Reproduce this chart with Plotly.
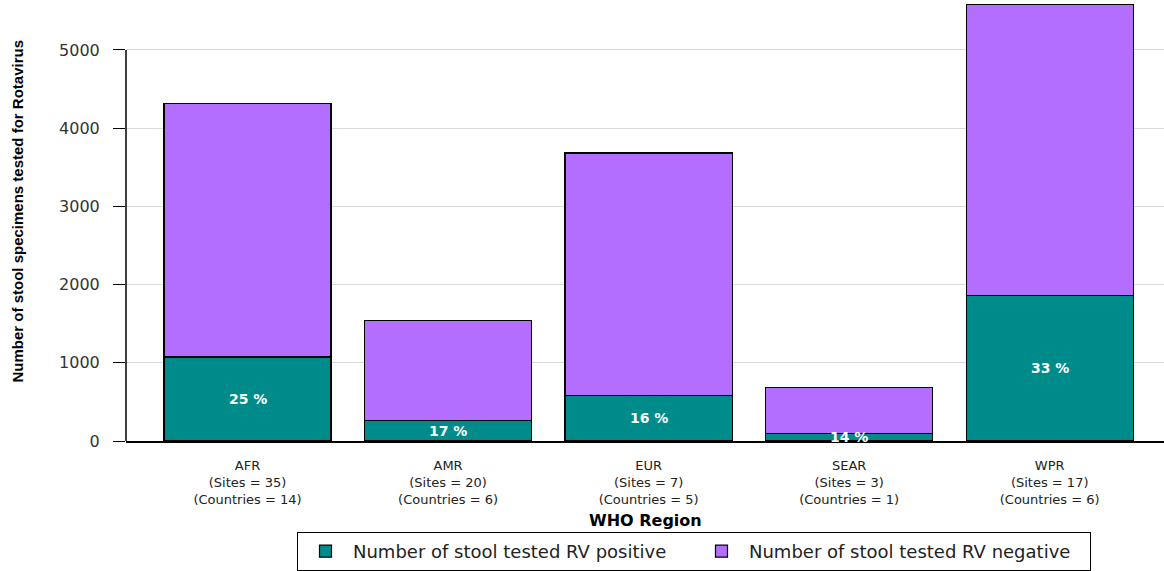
import plotly.graph_objects as go

regions = ["AFR", "AMR", "EUR", "SEAR", "WPR"]
sites = [35, 20, 7, 3, 17]
countries = [14, 6, 5, 1, 6]
positive = [1075, 259, 578, 95, 1862]
negative = [3236, 1284, 3104, 590, 3716]
y_ticks = [0, 1000, 2000, 3000, 4000, 5000]

tick_text = [f"{r}<br>(Sites = {s})<br>(Countries = {c})" for r, s, c in zip(regions, sites, countries)]
x = list(range(len(regions)))

TEAL = "#008B8B"
PURPLE = "#B46EFF"

fig = go.Figure()
fig.add_trace(go.Bar(x=x, y=positive, name="Number of stool tested RV positive",
                     marker=dict(color=TEAL, line=dict(color="black", width=1.2)), width=0.833))
fig.add_trace(go.Bar(x=x, y=negative, name="Number of stool tested RV negative",
                     marker=dict(color=PURPLE, line=dict(color="black", width=1.2)), width=0.833))

for i, (p, n) in enumerate(zip(positive, negative)):
    pct = round(p / (p + n) * 100)
    fig.add_annotation(x=i, y=p / 2, text=f"{pct} %", showarrow=False,
                       font=dict(family="DejaVu Sans", size=14, color="white", weight="bold"))

fig.add_shape(type="line", xref="paper", yref="y", x0=0, x1=0, y0=0, y1=5000,
              line=dict(color="black", width=1.5))

fig.add_annotation(xref="paper", yref="paper", x=(18 - 126) / 1038, y=(442 - 212) / 442,
                   text="Number of stool specimens tested for Rotavirus", textangle=-90,
                   showarrow=False, xanchor="center", yanchor="middle",
                   font=dict(family="Liberation Sans", size=15, color="black", weight="bold"))
fig.add_annotation(xref="paper", yref="paper", x=0.5, y=(442 - 522) / 442,
                   text="WHO Region", showarrow=False, xanchor="center", yanchor="middle",
                   font=dict(family="DejaVu Sans", size=16, color="black", weight="bold"))

fig.update_layout(
    barmode="stack",
    width=1164, height=571,
    margin=dict(l=126, r=0, t=0, b=129),
    plot_bgcolor="white", paper_bgcolor="white",
    font=dict(family="DejaVu Sans", color="#222"),
    xaxis=dict(range=[-0.606, 4.57], tickmode="array", tickvals=x, ticktext=tick_text,
               showline=True, linecolor="black", linewidth=1.5, ticks="", showgrid=False,
               tickfont=dict(size=13, family="DejaVu Sans", color="#222"), ticklabelstandoff=12),
    yaxis=dict(range=[0, 5638], tickmode="array", tickvals=y_ticks, ticktext=[str(v) for v in y_ticks],
               showline=False, ticks="outside", ticklen=12, tickcolor="black", tickwidth=1.2,
               showgrid=True, gridcolor="#DADADA", gridwidth=1.2, zeroline=False,
               tickfont=dict(size=16, family="DejaVu Sans", color="#333"), ticklabelstandoff=10),
    legend=dict(orientation="h", xref="paper", yref="paper",
                x=(297 - 126) / 1038, y=(442 - 533) / 442, xanchor="left", yanchor="top",
                bordercolor="black", borderwidth=1, bgcolor="white",
                font=dict(family="DejaVu Sans", size=18, color="#222"),
                itemwidth=45,
                entrywidth=336, entrywidthmode="pixels", traceorder="normal"),
    showlegend=True,
)

fig.write_html("out.html", config={"displayModeBar": False},
               post_script="document.body.style.margin='0';")
